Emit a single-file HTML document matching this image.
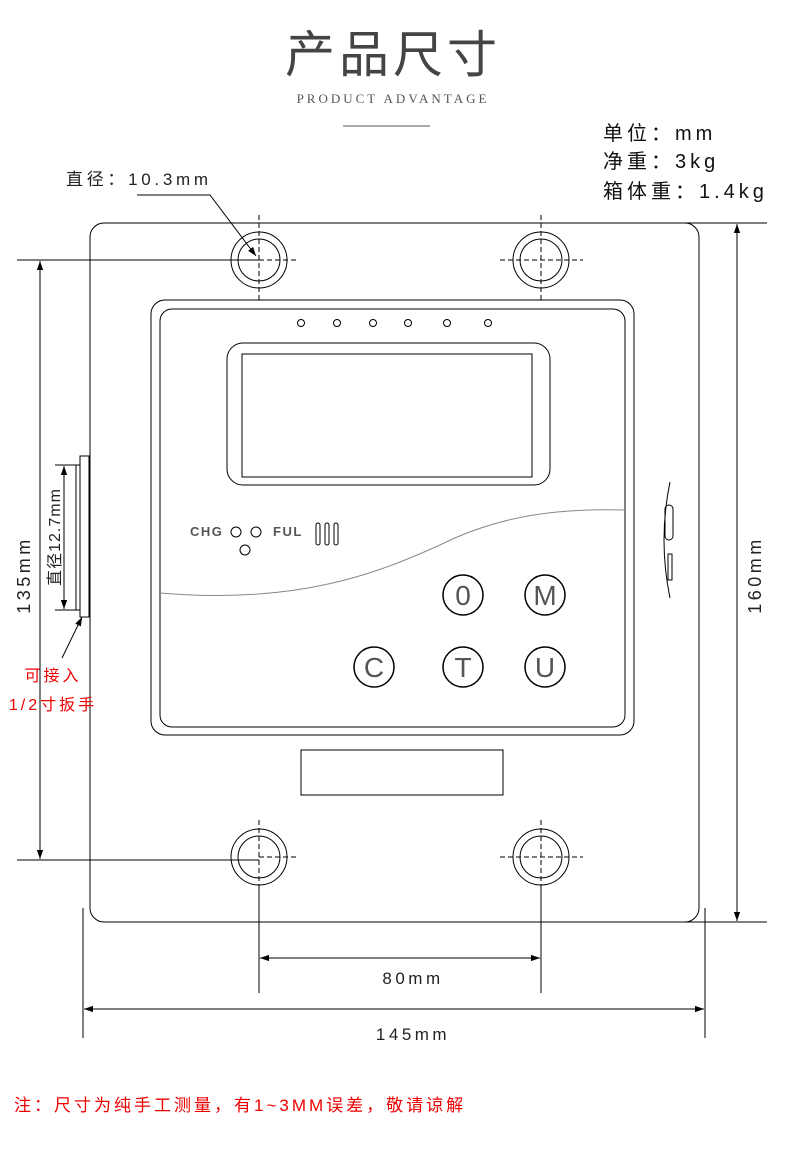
<!DOCTYPE html>
<html><head><meta charset="utf-8"><style>
body{margin:0;background:#fff;}
svg{display:block;}
text{font-family:"Liberation Sans","Noto Sans CJK SC",sans-serif;}
</style></head><body>
<svg width="790" height="1151" viewBox="0 0 790 1151" xmlns="http://www.w3.org/2000/svg">
<defs>
<marker id="a" viewBox="0 0 10 10" refX="10" refY="5" markerWidth="9" markerHeight="9" markerUnits="userSpaceOnUse" orient="auto-start-reverse"><path d="M0,1.5 L10,5 L0,8.5 z" fill="#000"/></marker>
</defs>
<text x="393" y="72" font-size="50" fill="#444" text-anchor="middle" letter-spacing="4">产品尺寸</text>
<text x="393" y="103" font-size="13" fill="#555" text-anchor="middle" letter-spacing="3" style="font-family:'Liberation Serif',serif">PRODUCT ADVANTAGE</text>
<line x1="343" y1="126" x2="430" y2="126" stroke="#555" stroke-width="1"/>
<g font-size="20" fill="#111" letter-spacing="4"><text x="603" y="140">单位：mm</text><text x="603" y="168">净重：3kg</text><text x="603" y="198">箱体重：1.4kg</text></g>
<text x="66" y="185" font-size="17" fill="#222" letter-spacing="3.7">直径：10.3mm</text>
<g stroke="#000" stroke-width="1" fill="none">
<polyline points="137,195 210,195 256,256" marker-end="url(#a)"/>
<rect x="90" y="223" width="609" height="699" rx="14"/>
<circle cx="259" cy="260" r="28"/><circle cx="259" cy="260" r="21"/>
<circle cx="541" cy="260" r="28"/><circle cx="541" cy="260" r="21"/>
<circle cx="259" cy="857" r="28"/><circle cx="259" cy="857" r="21"/>
<circle cx="541" cy="857" r="28"/><circle cx="541" cy="857" r="21"/>
<g stroke-dasharray="5,3">
<line x1="259" y1="215" x2="259" y2="300"/><line x1="259" y1="260" x2="298" y2="260"/>
<line x1="541" y1="215" x2="541" y2="300"/><line x1="500" y1="260" x2="583" y2="260"/>
<line x1="259" y1="820" x2="259" y2="900"/><line x1="259" y1="857" x2="298" y2="857"/>
<line x1="541" y1="820" x2="541" y2="900"/><line x1="500" y1="857" x2="583" y2="857"/>
</g>
<line x1="17" y1="260" x2="259" y2="260"/><line x1="17" y1="860" x2="259" y2="860"/>
<line x1="40" y1="261" x2="40" y2="859" marker-start="url(#a)" marker-end="url(#a)"/>
<line x1="680" y1="223" x2="767" y2="223"/><line x1="680" y1="922" x2="767" y2="922"/>
<line x1="737" y1="224" x2="737" y2="921" marker-start="url(#a)" marker-end="url(#a)"/>
<line x1="259" y1="885" x2="259" y2="993"/><line x1="541" y1="885" x2="541" y2="993"/>
<line x1="260" y1="958" x2="540" y2="958" marker-start="url(#a)" marker-end="url(#a)"/>
<line x1="83" y1="908" x2="83" y2="1038"/><line x1="705" y1="908" x2="705" y2="1038"/>
<line x1="84" y1="1009" x2="704" y2="1009" marker-start="url(#a)" marker-end="url(#a)"/>
<rect x="151" y="300" width="483" height="435" rx="14"/>
<rect x="160" y="309" width="465" height="418" rx="12"/>
<circle cx="301" cy="323" r="3.5"/><circle cx="337" cy="323" r="3.5"/><circle cx="373" cy="323" r="3.5"/><circle cx="408" cy="323" r="3.5"/><circle cx="447" cy="323" r="3.5"/><circle cx="488" cy="323" r="3.5"/>
<rect x="227" y="343" width="323" height="142" rx="16"/>
<rect x="242" y="354" width="290" height="123"/>
<circle cx="236" cy="532" r="5"/><circle cx="256" cy="532" r="5"/><circle cx="245" cy="550" r="5"/>
<rect x="316" y="523" width="4" height="22" rx="2"/><rect x="325" y="523" width="4" height="22" rx="2"/><rect x="334" y="523" width="4" height="22" rx="2"/>
<path d="M160,593 C300,605 380,572 440,545 C500,515 560,508 625,510" stroke="#888"/>
<g stroke-width="1.5"><circle cx="463" cy="595" r="20"/><circle cx="545" cy="595" r="20"/><circle cx="374" cy="667" r="20"/><circle cx="463" cy="667" r="20"/><circle cx="545" cy="667" r="20"/></g>
<rect x="301" y="750" width="202" height="45"/>
<rect x="80" y="456" width="9" height="161"/>
<line x1="76" y1="465" x2="76" y2="610"/>
<line x1="55" y1="465" x2="80" y2="465"/><line x1="55" y1="610" x2="80" y2="610"/>
<line x1="64" y1="466" x2="64" y2="609" marker-start="url(#a)" marker-end="url(#a)"/>
<line x1="62" y1="658" x2="82" y2="617" marker-end="url(#a)"/>
<path d="M670,482 Q658,540 670,598"/>
<rect x="665" y="505" width="8" height="35" rx="4"/>
<rect x="668" y="554" width="4" height="26"/>
</g>
<g fill="#555" font-size="13" font-weight="bold" letter-spacing="1.5"><text x="190" y="536">CHG</text><text x="273" y="536">FUL</text></g>
<g fill="#555" font-size="28" text-anchor="middle"><text x="463" y="605">0</text><text x="545" y="605">M</text><text x="374" y="677">C</text><text x="463" y="677">T</text><text x="545" y="677">U</text></g>
<text transform="translate(30,575) rotate(-90)" font-size="18" fill="#222" text-anchor="middle" letter-spacing="3.5">135mm</text>
<text transform="translate(761,575) rotate(-90)" font-size="18" fill="#222" text-anchor="middle" letter-spacing="3.5">160mm</text>
<text transform="translate(60,537) rotate(-90)" font-size="16" fill="#222" text-anchor="middle" letter-spacing="1">直径12.7mm</text>
<text x="413" y="984" font-size="17" fill="#222" text-anchor="middle" letter-spacing="3.5">80mm</text>
<text x="413" y="1040" font-size="17" fill="#222" text-anchor="middle" letter-spacing="3.5">145mm</text>
<g fill="#e00" font-size="16" text-anchor="middle" letter-spacing="3"><text x="53" y="681">可接入</text><text x="53" y="710">1/2寸扳手</text></g>
<text x="14" y="1111" font-size="17" fill="#e00" letter-spacing="3">注：尺寸为纯手工测量，有1~3MM误差，敬请谅解</text>
</svg>
</body></html>
